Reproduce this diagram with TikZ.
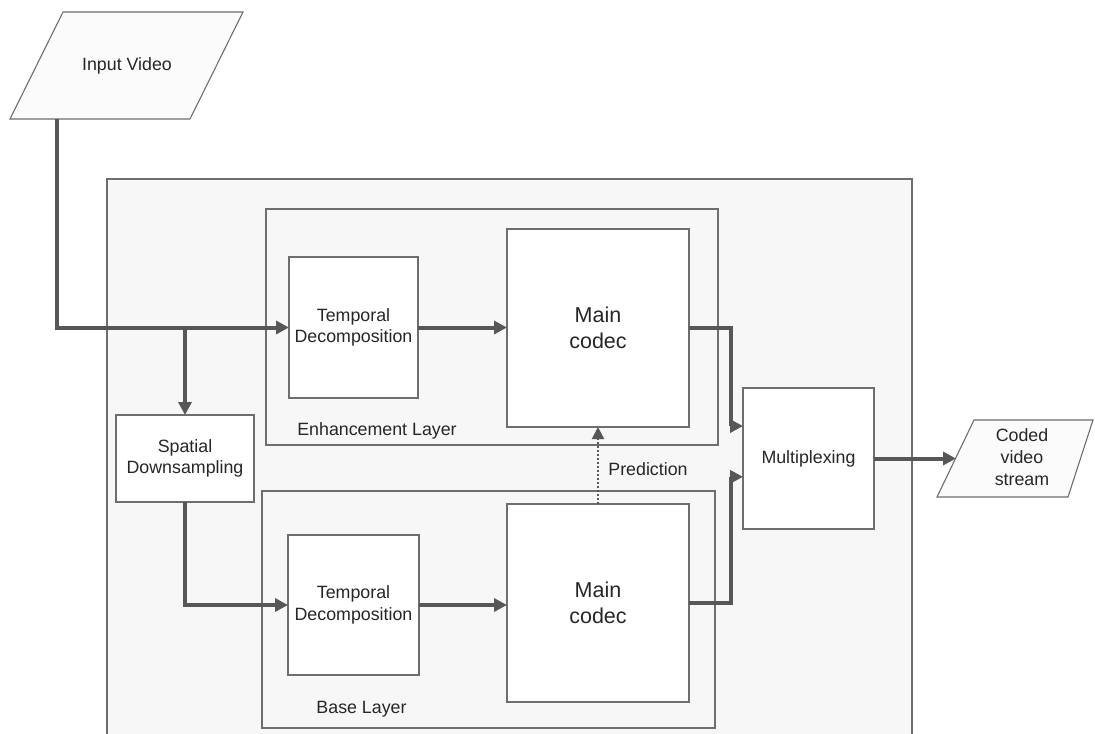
\documentclass[tikz,border=0pt]{standalone}
\usepackage{fontspec}
\setmainfont{Liberation Sans}
\usetikzlibrary{arrows.meta,calc}
\definecolor{edge}{HTML}{6E6E6E}
\definecolor{flowc}{HTML}{575757}
\definecolor{panel}{HTML}{F7F7F7}
\definecolor{iofill}{HTML}{FBFBFB}
\begin{document}
\begin{tikzpicture}[x=1bp,y=-1bp,
  box/.style={draw=edge, line width=1.1bp, fill=white, inner sep=0pt, outer sep=0pt},
  layer/.style={draw=edge, line width=1.1bp, fill=panel, inner sep=0pt, outer sep=0pt},
  txt/.style={font=\fontsize{17.8bp}{21.5bp}\selectfont, align=center, text=black!85},
  big/.style={font=\fontsize{21.5bp}{26bp}\selectfont, align=center, text=black!85},
  iobox/.style={draw=edge, line width=1.1bp, fill=iofill},
  flow/.style={draw=flowc, line width=4bp, -{Triangle[length=13bp,width=13bp]}},
  pred/.style={draw=flowc, line width=2bp, dash pattern=on 2bp off 2bp,
    -{Triangle[length=12bp,width=12bp]}}
]
\clip (0,0) rectangle (1095,734);
\fill[white] (0,0) rectangle (1095,734);

% encoder frame and its two layers
\node[layer, minimum width=805bp, minimum height=566bp] (outer) at (509.5,462) {};
\node[layer, minimum width=452bp, minimum height=236bp] (enh) at (492,327) {};
\node[layer, minimum width=453bp, minimum height=237bp] (base) at (488.5,609.5) {};
\node[txt] (enhlbl) at (377,431) {Enhancement Layer};
\node[txt] (baselbl) at (361.5,709) {Base Layer};

% processing blocks
\node[box, txt, minimum width=129bp, minimum height=141bp] (tempE) at (353.5,327.5) {Temporal\\Decomposition};
\node[box, big, minimum width=182bp, minimum height=198bp] (mainE) at (598,328) {Main\\codec};
\node[box, txt, minimum width=131bp, minimum height=140bp] (tempB) at (353.5,605) {Temporal\\Decomposition};
\node[box, big, minimum width=182bp, minimum height=198bp] (mainB) at (598,603) {Main\\codec};
\node[box, txt, minimum width=138bp, minimum height=87bp] (spatial) at (185,458.5) {Spatial\\Downsampling};
\node[box, txt, minimum width=131bp, minimum height=141bp] (mux) at (808.5,458.5) {Multiplexing};

% input and output
\draw[iobox] (63,12) -- (243,12) -- (190,119) -- (10,119) -- cycle;
\node[txt] (invid) at (127,66) {Input Video};
\coordinate (invidB) at (57,119);
\draw[iobox] (974,420) -- (1093,420) -- (1068,497) -- (937,497) -- cycle;
\node[txt, font=\fontsize{17.8bp}{22bp}\selectfont] (coded) at (1022,457) {Coded\\video\\stream};
\coordinate (codedL) at (956,458.5);

% data flow
\draw[flow] (invidB) |- (tempE.west);
\draw[flow] (spatial.north |- tempE.west) -- (spatial.north);
\draw[flow] (spatial.south) |- (tempB.west);
\draw[flow] (tempE.east) -- (tempE.east -| mainE.west);
\draw[flow] (tempB.east) -- (tempB.east -| mainB.west);
\draw[flow] (mainE.east) -- ++(42,0) |- ($(mux.north west)!0.27!(mux.south west)$);
\draw[flow] (mainB.east) -- ++(42,0) |- ($(mux.north west)!0.63!(mux.south west)$);
\draw[flow] (mux.east) -- (codedL);

% inter-layer prediction
\draw[pred] (mainB.north) -- (mainE.south);
\node[txt] (predlbl) at (648,469) {Prediction};
\end{tikzpicture}
\end{document}
